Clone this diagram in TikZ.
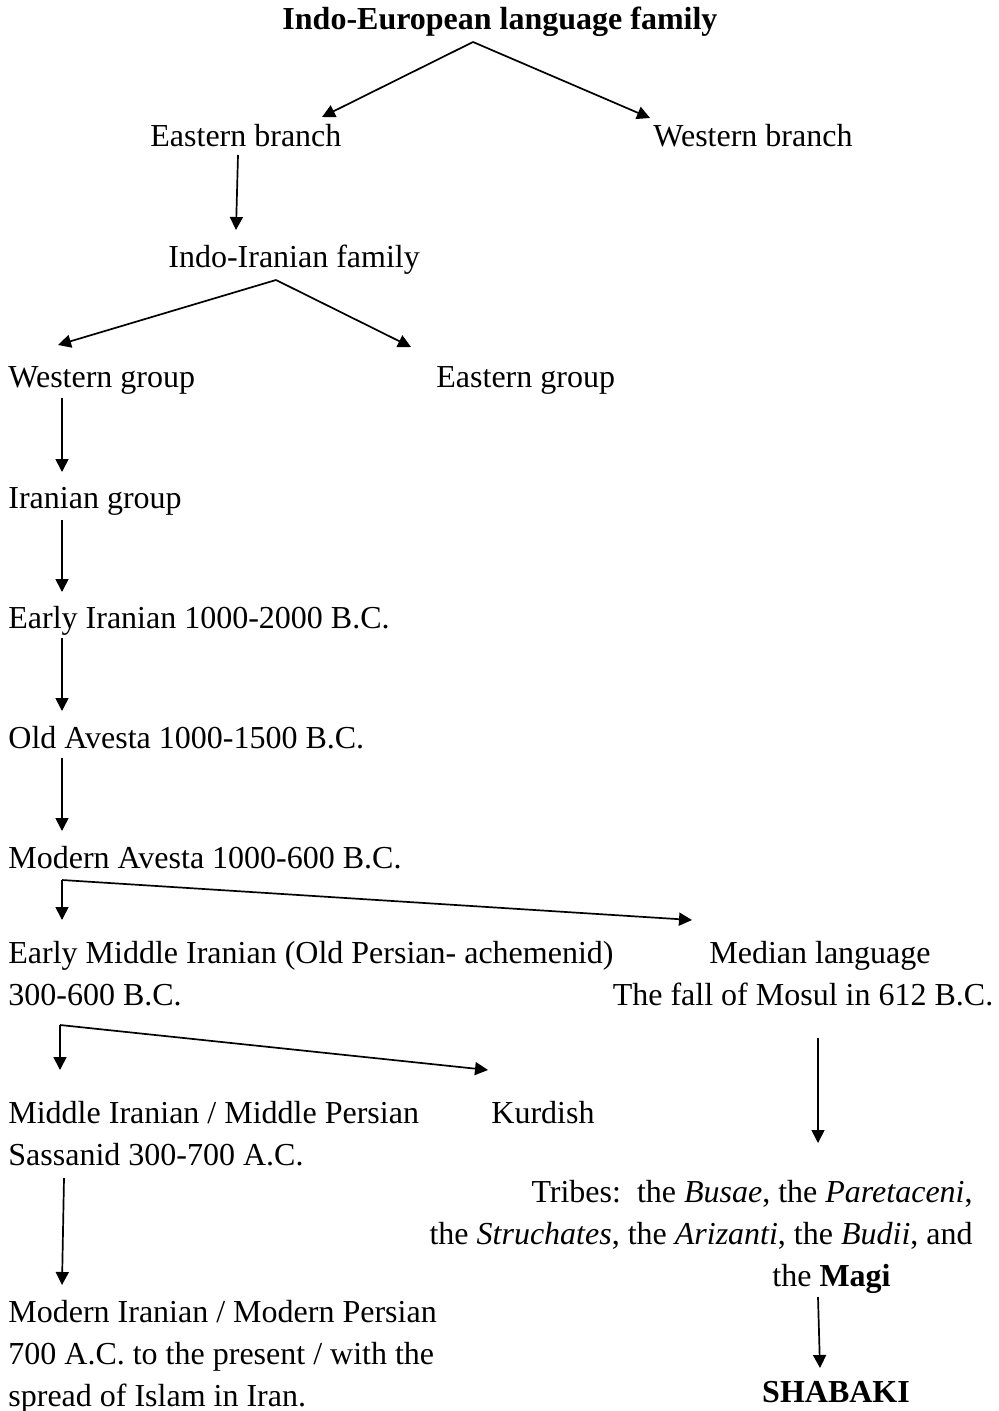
\documentclass[tikz,border=0pt]{standalone}
\usepackage{fontspec}
\setmainfont{Liberation Serif}
\usepackage{tikz}
\usetikzlibrary{arrows.meta}
\tikzset{
  libelle/.style={inner sep=0pt, anchor=base west, align=left,
    font=\fontsize{16pt}{21pt}\selectfont},
  libellegras/.style={libelle, anchor=base, font=\fontsize{16pt}{21pt}\selectfont\bfseries},
  fleche/.style={-{Triangle[length=6.5pt, width=6.5pt]}, line width=0.85pt, color=black}
}

\begin{document}
\begin{tikzpicture}[x=0.5pt, y=-0.5pt]
    \useasboundingbox (0,0) rectangle (999,1411);

    % base of a multi-line node = baseline of its last line
    \node[libellegras] (titre) at (500,30) {Indo-European language family};
    \node[libelle] (estb) at (150,147) {Eastern branch};
    \node[libelle] (ouestb) at (653,147) {Western branch};
    \node[libelle] (indoir) at (168,268) {Indo-Iranian family};
    \node[libelle] (ouestg) at (8,388) {Western group};
    \node[libelle] (estg) at (436,388) {Eastern group};
    \node[libelle] (iran) at (8,508) {Iranian group};
    \node[libelle] (early) at (8,628) {Early Iranian 1000-2000 B.C.};
    \node[libelle] (oldav) at (8,748) {Old Avesta 1000-1500 B.C.};
    \node[libelle] (modav) at (8,868) {Modern Avesta 1000-600 B.C.};
    \node[libelle] (emid) at (8,1005) {Early Middle Iranian (Old Persian- achemenid)\\300-600 B.C.};
    \node[libelle, anchor=base, align=center] (median) at (803,1005) {\hspace*{17pt}Median language\\The fall of Mosul in 612 B.C.};
    \node[libelle] (moyen) at (8,1165) {Middle Iranian / Middle Persian\\Sassanid 300-700 A.C.};
    \node[libelle] (kurde) at (491,1123) {Kurdish};
    \node[libelle, anchor=base east, align=right] (tribus) at (973,1286)
      {Tribes:\ \ the \textit{Busae}, the \textit{Paretaceni},\\
       the \textit{Struchates}, the \textit{Arizanti}, the \textit{Budii}, and\\
       the \textbf{Magi}\hspace*{41pt}};
    \node[libelle] (moderne) at (8,1406) {Modern Iranian / Modern Persian\\700 A.C. to the present / with the\\spread of Islam in Iran.};
    \node[libellegras] (shabaki) at (836,1402) {SHABAKI};

    \draw[fleche] ([shift={(-27,12)}]titre.base) -- ([shift={(172,-30)}]estb.base west);
    \draw[fleche] ([shift={(-27,12)}]titre.base) -- ([shift={(-3,-29)}]ouestb.base west);
    \draw[fleche] ([shift={(88,8)}]estb.base west) -- ([shift={(68,-38)}]indoir.base west);
    \draw[fleche] ([shift={(108,12)}]indoir.base west) -- ([shift={(50,-43)}]ouestg.base west);
    \draw[fleche] ([shift={(108,12)}]indoir.base west) -- ([shift={(-25,-41)}]estg.base west);
    \draw[fleche] ([shift={(54,10)}]ouestg.base west) -- ([shift={(54,-36)}]iran.base west);
    \draw[fleche] ([shift={(54,12)}]iran.base west) -- ([shift={(54,-36)}]early.base west);
    \draw[fleche] ([shift={(54,10)}]early.base west) -- ([shift={(54,-37)}]oldav.base west);
    \draw[fleche] ([shift={(54,10)}]oldav.base west) -- ([shift={(54,-37)}]modav.base west);
    \draw[fleche] ([shift={(54,12)}]modav.base west) -- ([shift={(54,-85)}]emid.base west);
    \draw[fleche] ([shift={(54,12)}]modav.base west) -- ([shift={(-111,-85)}]median.base);
    \draw[fleche] ([shift={(52,20)}]emid.base west) -- ([shift={(52,-95)}]moyen.base west);
    \draw[fleche] ([shift={(52,20)}]emid.base west) -- ([shift={(-3,-53)}]kurde.base west);
    \draw[fleche] ([shift={(15,33)}]median.base) -- ([shift={(-155,-143)}]tribus.base east);
    \draw[fleche] ([shift={(56,13)}]moyen.base west) -- ([shift={(54,-121)}]moderne.base west);
    \draw[fleche] ([shift={(-155,11)}]tribus.base east) -- ([shift={(-16,-34)}]shabaki.base);
\end{tikzpicture}
\end{document}
